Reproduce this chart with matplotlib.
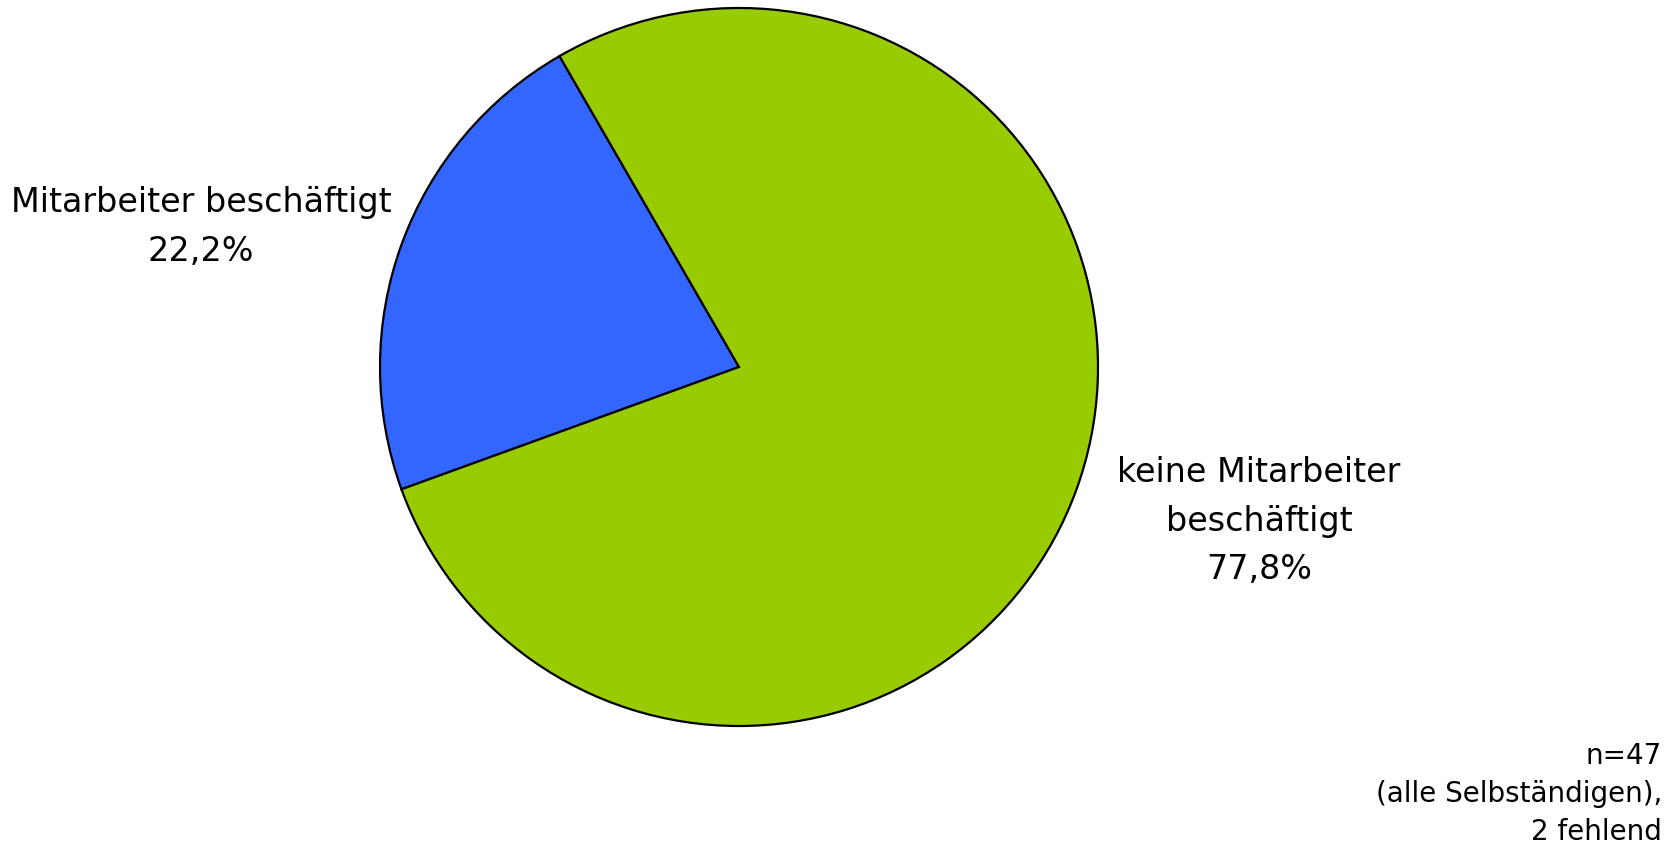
import matplotlib
matplotlib.use("Agg")
import matplotlib.pyplot as plt

labels = ["Mitarbeiter beschäftigt", "keine Mitarbeiter\nbeschäftigt"]
shares = [22.2, 77.8]
colors = ["#3366FF", "#99CC00"]
note = "n=47\n(alle Selbständigen),\n2 fehlend"

W, H = 1679, 846
fig = plt.figure(figsize=(W / 100, H / 100), dpi=100)

# pie centre and radius in pixels
cx, cy, r = 739, 367, 359
ax = fig.add_axes([(cx - r) / W, (H - cy - r) / H, 2 * r / W, 2 * r / H])
ax.pie(shares, colors=colors, startangle=120, counterclock=True,
       wedgeprops=dict(edgecolor="black", linewidth=1.6))
ax.set_xlim(-1, 1)
ax.set_ylim(-1, 1)
ax.set_aspect("equal")
ax.axis("off")

label_pos = [(201, 227), (1259, 521)]
for lab, val, (x, y) in zip(labels, shares, label_pos):
    txt = f"{lab}\n{val:.1f}%".replace(".", ",")
    fig.text(x / W, 1 - y / H, txt, ha="center", va="center",
             fontsize=24, linespacing=1.6, family="DejaVu Sans")

fig.text(1662 / W, 1 - 794 / H, note, ha="right", va="center",
         fontsize=20, linespacing=1.45, family="DejaVu Sans")

fig.savefig("out.png", dpi=100)
